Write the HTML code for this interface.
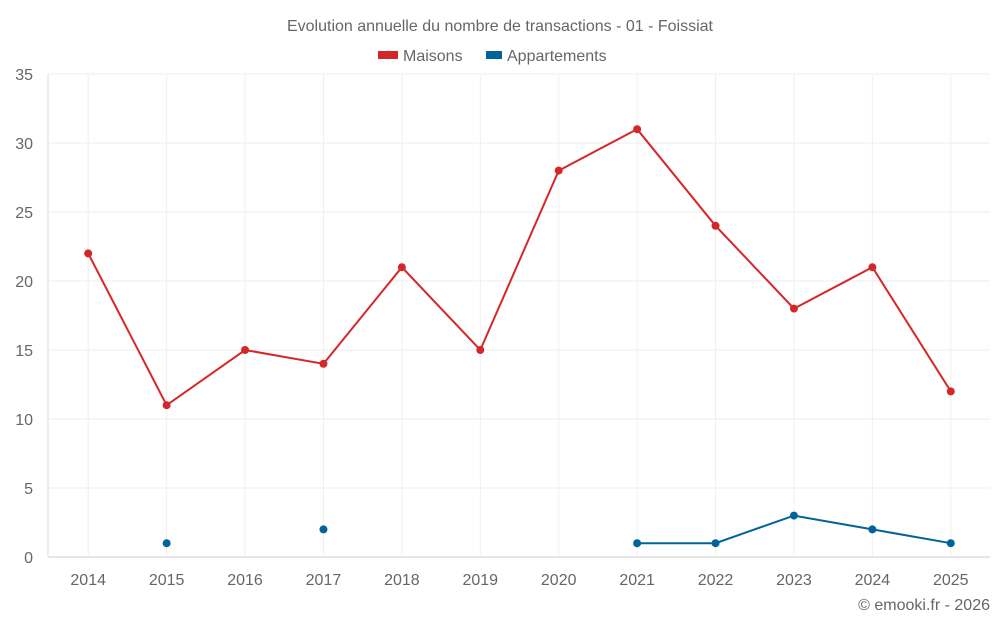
<!DOCTYPE html>
<html><head><meta charset="utf-8"><style>
body{margin:0;background:#fff;font-family:"Liberation Sans",sans-serif}
svg text{font-family:"Liberation Sans",sans-serif;fill:#666}
</style></head><body>
<svg id="c" width="1000" height="625">
<text x="500" y="31" text-anchor="middle" font-size="16">Evolution annuelle du nombre de transactions - 01 - Foissiat</text>
<g><rect x="378" y="51" width="20" height="8" fill="#d62728"/><text x="403" y="61" font-size="16">Maisons</text></g>
<g><rect x="486" y="51" width="16" height="8" fill="#00649b"/><text x="507" y="61" font-size="16">Appartements</text></g>
<g id="grid"></g><g id="axes"></g><g id="series"></g>
<text x="990" y="610" text-anchor="end" font-size="16">© emooki.fr - 2026</text>
</svg>
<script>
const categories=["2014","2015","2016","2017","2018","2019","2020","2021","2022","2023","2024","2025"];
const maisons=[22,11,15,14,21,15,28,31,24,18,21,12];
const appartements=[null,1,null,2,null,null,null,1,1,3,2,1];
const yTicks=[0,5,10,15,20,25,30,35];
const L=49,R=990,T=74,B=557,yMax=35;
const bw=(R-L)/categories.length;
const x=i=>L+bw*(i+0.5);
const y=v=>B-(v/yMax)*(B-T);
const NS="http://www.w3.org/2000/svg";
function mk(tag,attrs,parent){const e=document.createElementNS(NS,tag);for(const k in attrs)e.setAttribute(k,attrs[k]);parent.appendChild(e);return e;}
const g=document.getElementById('grid'),ax=document.getElementById('axes'),s=document.getElementById('series');
yTicks.forEach(t=>{
 const l=mk('line',{x1:48,x2:R,y1:y(t),y2:y(t),stroke:t===0?'#ccc':'#eee'},g);
 
 
 const tx=mk('text',{x:33,y:y(t)+6,'text-anchor':'end','font-size':16},ax);tx.textContent=t;
 
 
});
const al=mk('line',{x1:48,x2:48,y1:T,y2:B,stroke:'#ddd'},g);


categories.forEach((c,i)=>{
 const l=mk('line',{x1:x(i),x2:x(i),y1:T,y2:B,stroke:'#f0f0f0'},g);
 
 
 const tx=mk('text',{x:x(i),y:585,'text-anchor':'middle','font-size':16},ax);tx.textContent=c;
 
 
});
function draw(data,color,name){
 let seg=[];const segs=[];
 data.forEach((v,i)=>{if(v==null){if(seg.length)segs.push(seg);seg=[];}else seg.push([x(i),y(v)]);});
 if(seg.length)segs.push(seg);
 segs.forEach(sg=>{if(sg.length>1){const p=mk('polyline',{points:sg.map(p=>p.join(',')).join(' '),fill:'none',stroke:color,'stroke-width':2},s);
  
  }});
 data.forEach((v,i)=>{if(v==null)return;const c=mk('circle',{cx:x(i),cy:y(v),r:4,fill:color},s);
  
  });
}
draw(maisons,'#d62728','maisons');
draw(appartements,'#00649b','appartements');
</script>
</body></html>
